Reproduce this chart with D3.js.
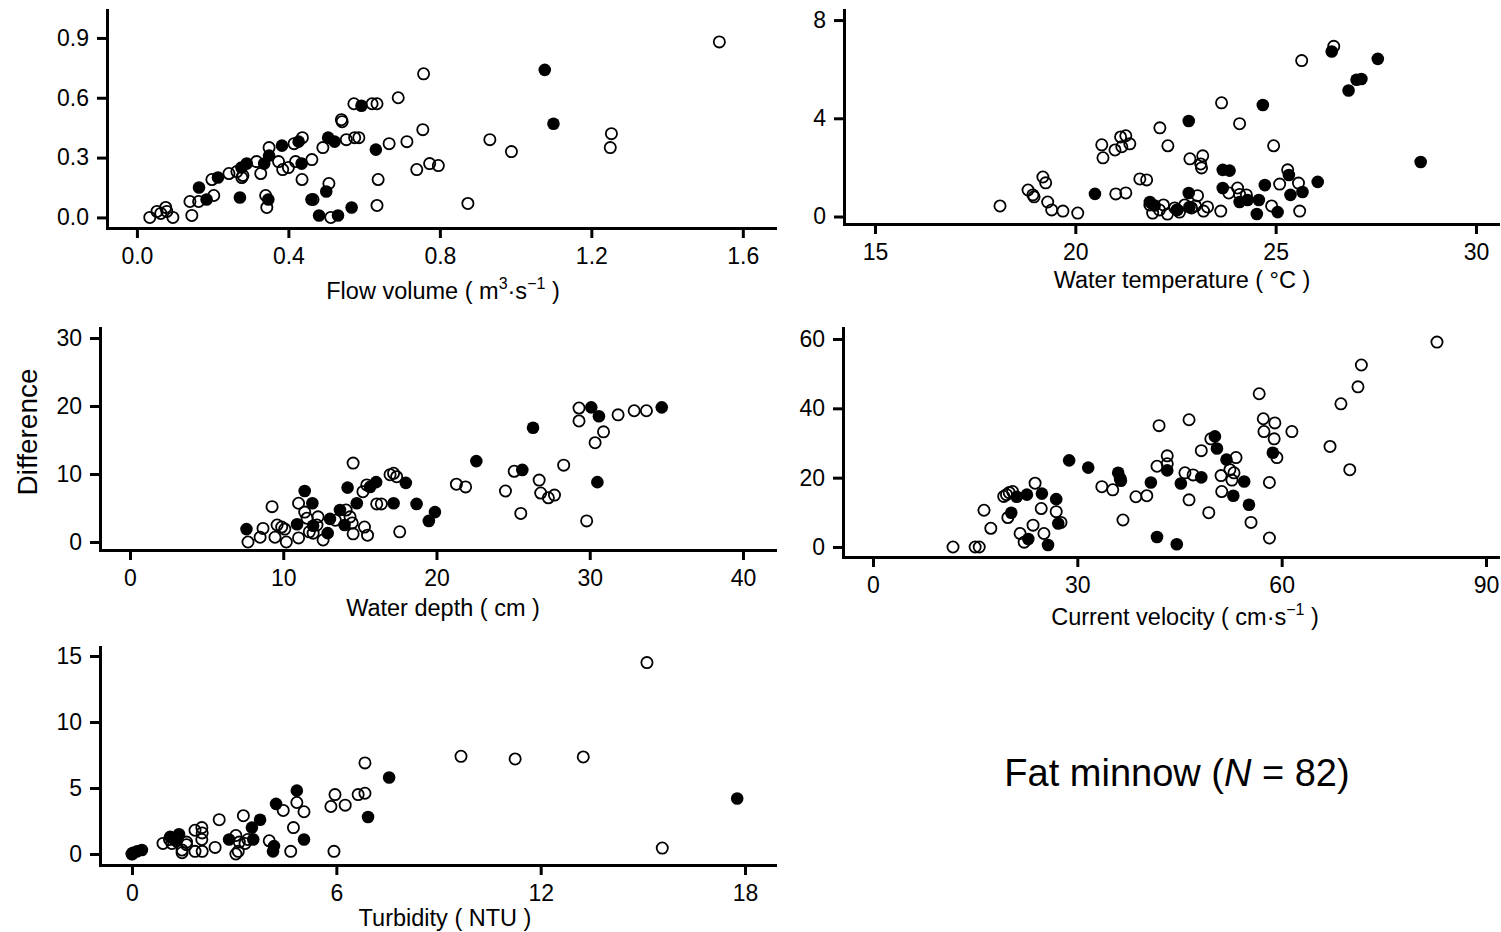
<!DOCTYPE html>
<html>
<head>
<meta charset="utf-8">
<script src="https://cdn.jsdelivr.net/npm/d3@7"></script>
<style>
body { margin: 0; background: #fff; }
svg { font-family: "Liberation Sans", Arial, Helvetica, sans-serif; }
.axis path, .axis line { stroke: #000; stroke-width: 3; }
.axis path { stroke-linecap: square; }
.axis text { font-size: 23px; fill: #000; }
.xtitle { fill: #000; }
</style>
</head>
<body>
<div id="chart"></div>
<script>
// Values: [x, difference]
var flowOpen = [[0.034,0.00],[0.053,0.03],[0.063,0.02],[0.076,0.05],[0.079,0.03],[0.095,0.00],[0.14,0.08],[0.145,0.01],[0.163,0.08],[0.198,0.19],[0.203,0.11],[0.243,0.22],[0.264,0.23],[0.277,0.20],[0.28,0.21],[0.316,0.28],[0.327,0.22],[0.34,0.11],[0.343,0.05],[0.349,0.35],[0.374,0.28],[0.385,0.24],[0.40,0.25],[0.415,0.37],[0.419,0.28],[0.437,0.40],[0.436,0.19],[0.462,0.29],[0.465,0.09],[0.491,0.35],[0.507,0.17],[0.512,0.00],[0.54,0.49],[0.542,0.48],[0.553,0.39],[0.575,0.40],[0.586,0.40],[0.573,0.57],[0.621,0.57],[0.634,0.57],[0.637,0.19],[0.634,0.06],[0.666,0.37],[0.69,0.60],[0.713,0.38],[0.757,0.72],[0.755,0.44],[0.739,0.24],[0.773,0.27],[0.796,0.26],[0.874,0.07],[0.932,0.39],[0.989,0.33],[1.253,0.42],[1.25,0.35],[1.538,0.88]];
var flowFilled = [[0.164,0.15],[0.184,0.09],[0.214,0.20],[0.272,0.10],[0.276,0.25],[0.29,0.27],[0.336,0.27],[0.349,0.31],[0.347,0.09],[0.383,0.36],[0.427,0.38],[0.435,0.27],[0.461,0.09],[0.481,0.01],[0.50,0.13],[0.505,0.40],[0.522,0.38],[0.531,0.01],[0.567,0.05],[0.593,0.56],[0.631,0.34],[1.077,0.74],[1.10,0.47]];

var tempOpen = [[18.12,0.43],[18.82,1.08],[18.94,0.88],[18.97,0.80],[19.19,1.61],[19.26,1.37],[19.31,0.59],[19.41,0.27],[19.69,0.22],[20.06,0.14],[20.66,2.92],[20.69,2.39],[20.99,2.71],[21.16,2.84],[21.13,3.24],[21.26,3.29],[21.36,2.96],[21.01,0.92],[21.26,0.96],[21.61,1.53],[21.78,1.49],[22.11,3.61],[22.31,2.88],[22.86,2.35],[23.18,2.47],[23.13,2.14],[23.15,1.98],[23.65,4.63],[24.1,3.78],[24.95,2.88],[25.3,1.90],[25.65,6.35],[26.45,6.93],[25.1,1.32],[25.57,1.36],[24.9,0.43],[25.6,0.22],[23.63,0.22],[23.83,0.96],[24.05,1.16],[24.27,0.88],[24.1,0.9],[23.05,0.85],[21.86,0.47],[21.93,0.14],[22.1,0.27],[22.2,0.47],[22.3,0.10],[22.48,0.35],[22.6,0.18],[22.73,0.47],[22.9,0.35],[23.0,0.43],[23.2,0.22],[23.3,0.39]];
var tempFilled = [[26.4,6.72],[27.55,6.42],[27.02,5.57],[27.14,5.60],[26.82,5.13],[24.68,4.54],[22.83,3.89],[28.62,2.22],[23.68,1.90],[23.85,1.87],[26.05,1.41],[24.73,1.28],[25.33,1.69],[25.67,1.00],[25.37,0.88],[23.68,1.16],[24.1,0.59],[24.3,0.67],[24.58,0.67],[24.53,0.10],[25.05,0.18],[22.83,0.96],[22.53,0.27],[21.86,0.59],[20.49,0.92],[21.98,0.45],[22.55,0.27],[22.85,0.39]];

var depthOpen = [[7.7,0.0],[8.49,0.7],[8.68,2.0],[9.27,5.2],[9.46,0.7],[9.6,2.5],[9.9,2.2],[10.2,0.0],[10.1,1.9],[11.0,0.6],[11.0,5.7],[11.4,4.4],[11.55,3.5],[11.7,1.5],[11.95,1.3],[12.27,3.7],[12.2,2.5],[12.6,0.3],[13.4,3.2],[14.1,4.7],[14.36,3.7],[14.5,2.8],[14.56,1.2],[15.3,2.2],[15.5,1.0],[14.56,11.6],[15.2,7.4],[15.45,8.4],[16.1,5.6],[16.4,5.6],[16.97,9.9],[17.2,10.1],[17.4,9.6],[17.6,1.5],[21.3,8.5],[21.9,8.1],[24.5,7.5],[25.07,10.4],[25.5,4.2],[26.7,9.1],[26.8,7.2],[27.3,6.5],[27.7,6.9],[28.3,11.3],[29.3,19.7],[29.3,17.8],[29.8,3.1],[30.35,14.6],[30.9,16.2],[31.85,18.7],[32.9,19.3],[33.7,19.3]];
var depthFilled = [[7.6,1.9],[10.9,2.6],[11.4,7.5],[11.9,5.7],[11.95,2.4],[12.9,1.3],[13.05,3.4],[13.7,4.7],[14.2,8.0],[14.0,2.5],[14.8,5.7],[15.67,8.1],[16.06,8.8],[17.2,5.7],[18.0,8.7],[18.7,5.6],[19.9,4.4],[19.5,3.1],[22.6,11.9],[25.6,10.6],[26.3,16.8],[30.1,19.8],[30.6,18.5],[30.5,8.8],[34.7,19.8]];

var velocityOpen = [[11.75,0.0],[15.0,0.0],[15.6,0.0],[16.3,10.6],[17.3,5.4],[19.2,14.6],[19.6,15.1],[20.0,15.7],[20.5,16.0],[19.8,8.5],[21.6,3.9],[22.2,1.4],[23.5,6.3],[23.8,18.4],[24.7,11.1],[25.1,3.9],[26.9,10.2],[27.6,7.1],[33.6,17.4],[35.2,16.5],[36.3,19.7],[36.7,7.8],[38.6,14.5],[40.2,14.8],[42.0,35.0],[41.7,23.3],[43.2,26.3],[43.2,24.0],[46.4,36.7],[45.8,21.4],[47.0,20.8],[46.4,13.6],[48.2,27.8],[49.3,9.9],[49.6,31.2],[51.1,20.6],[51.2,16.0],[52.4,22.3],[53.0,21.4],[52.7,19.3],[53.3,25.8],[55.5,7.1],[56.7,44.2],[57.3,37.0],[57.4,33.3],[59.0,35.8],[58.9,31.2],[59.3,25.8],[58.2,18.6],[58.2,2.6],[61.5,33.3],[67.1,29.0],[68.7,41.3],[70.0,22.3],[71.2,46.2],[71.7,52.5],[82.8,59.1]];
var velocityFilled = [[20.3,9.9],[21.1,14.5],[22.6,15.1],[24.8,15.4],[22.8,2.3],[25.7,0.6],[26.9,13.8],[27.2,6.8],[28.8,25.0],[31.6,22.9],[36.0,21.4],[36.4,19.1],[40.8,18.6],[41.7,2.9],[43.2,22.1],[44.6,0.8],[45.2,18.3],[48.2,20.1],[50.2,31.9],[50.5,28.4],[51.9,25.2],[52.9,14.8],[54.5,18.9],[55.2,12.2],[58.7,27.2]];

var turbOpen = [[0,0],[0.91,0.8],[1.17,0.8],[1.1,1.1],[1.3,1.0],[1.47,0.1],[1.47,0.3],[1.6,0.9],[1.6,0.7],[1.85,1.8],[1.85,0.2],[2.05,2.0],[2.06,1.6],[2.05,1.1],[2.06,0.2],[2.44,0.5],[2.56,2.6],[3.05,1.4],[3.05,0.0],[3.12,0.2],[3.15,0.9],[3.27,2.9],[3.32,0.8],[3.4,1.1],[4.03,1.0],[4.44,3.3],[4.66,0.2],[4.74,2.0],[4.84,3.9],[5.05,3.2],[5.84,3.6],[5.96,4.5],[5.93,0.2],[6.26,3.7],[6.64,4.5],[6.84,4.6],[6.84,6.9],[9.66,7.4],[11.25,7.2],[13.25,7.35],[15.12,14.5],[15.57,0.45]];
var turbFilled = [[0.0,0.0],[0.03,0.1],[0.15,0.2],[0.29,0.3],[1.12,1.3],[1.2,1.2],[1.38,1.5],[1.33,1.1],[2.85,1.1],[3.52,2.0],[3.76,2.6],[3.56,1.1],[4.17,0.6],[4.14,0.2],[4.23,3.8],[4.84,4.8],[5.05,1.1],[6.93,2.8],[7.55,5.8],[17.77,4.2]];

// Tick values for each panel
var flowXTicks = [0, 0.4, 0.8, 1.2, 1.6], flowYTicks = [0, 0.3, 0.6, 0.9];
var tempXTicks = [15, 20, 25, 30], tempYTicks = [0, 4, 8];
var depthXTicks = [0, 10, 20, 30, 40], depthYTicks = [0, 10, 20, 30];
var velocityXTicks = [0, 30, 60, 90], velocityYTicks = [0, 20, 40, 60];
var turbXTicks = [0, 6, 12, 18], turbYTicks = [0, 5, 10, 15];

var svg = d3.select('#chart').append('svg')
    .attr('width', 1501)
    .attr('height', 932);

// Layout of each panel (pixel frame of the axes, domain extents)
var panels = [
    {left: 107, right: 775, top: 10, bottom: 228, xDom: [-0.079, 1.685], yDom: [-0.053, 1.04],
     xTicks: flowXTicks, yTicks: flowYTicks, xFmt: d3.format('.1f'), yFmt: d3.format('.1f'),
     open: flowOpen, filled: flowFilled, titleX: 443, titleY: 299,
     title: [['Flow volume ( m', 0, 23.5], ['3', -10, 16], ['·s', 10, 23.5], ['−1', -10, 16], [' )', 10, 23.5]]},
    {left: 844, right: 1498, top: 10, bottom: 224, xDom: [14.226, 30.55], yDom: [-0.305, 8.41],
     xTicks: tempXTicks, yTicks: tempYTicks, xFmt: d3.format('d'), yFmt: d3.format('d'),
     open: tempOpen, filled: tempFilled, titleX: 1182, titleY: 288,
     title: [['Water temperature ( °C )', 0, 23.5]]},
    {left: 100, right: 775, top: 328, bottom: 550, xDom: [-1.958, 42.09], yDom: [-1.176, 31.47],
     xTicks: depthXTicks, yTicks: depthYTicks, xFmt: d3.format('d'), yFmt: d3.format('d'),
     open: depthOpen, filled: depthFilled, titleX: 443, titleY: 616,
     title: [['Water depth ( cm )', 0, 23.5]]},
    {left: 843, right: 1498, top: 328, bottom: 557, xDom: [-4.40, 91.76], yDom: [-2.88, 63.17],
     xTicks: velocityXTicks, yTicks: velocityYTicks, xFmt: d3.format('d'), yFmt: d3.format('d'),
     open: velocityOpen, filled: velocityFilled, titleX: 1185, titleY: 625,
     title: [['Current velocity ( cm·s', 0, 23.5], ['−1', -10, 16], [' )', 10, 23.5]]},
    {left: 100, right: 775, top: 647, bottom: 865, xDom: [-0.94, 18.88], yDom: [-0.833, 15.68],
     xTicks: turbXTicks, yTicks: turbYTicks, xFmt: d3.format('d'), yFmt: d3.format('d'),
     open: turbOpen, filled: turbFilled, titleX: 445, titleY: 926,
     title: [['Turbidity ( NTU )', 0, 23.5]]}
];

function drawPanel(p) {
    var x = d3.scaleLinear().domain(p.xDom).range([p.left, p.right]);
    var y = d3.scaleLinear().domain(p.yDom).range([p.bottom, p.top]);

    var g = svg.append('g');

    g.append('g').attr('class', 'axis')
        .attr('transform', `translate(0,${p.bottom})`)
        .call(d3.axisBottom(x).tickValues(p.xTicks).tickFormat(p.xFmt)
            .tickSize(10).tickSizeOuter(0).tickPadding(10))
        .call(a => a.selectAll('text').attr('font-family', null).attr('font-size', null));

    g.append('g').attr('class', 'axis')
        .attr('transform', `translate(${p.left},0)`)
        .call(d3.axisLeft(y).tickValues(p.yTicks).tickFormat(p.yFmt)
            .tickSize(10).tickSizeOuter(0).tickPadding(8))
        .call(a => a.selectAll('text').attr('font-family', null).attr('font-size', null));

    // open circles first, filled ones on top
    g.selectAll('circle.open').data(p.open).enter().append('circle')
        .attr('class', 'open')
        .attr('cx', d => x(d[0]))
        .attr('cy', d => y(d[1]))
        .attr('r', 5.6)
        .attr('fill', 'none')
        .attr('stroke', '#000')
        .attr('stroke-width', 1.8);

    g.selectAll('circle.filled').data(p.filled).enter().append('circle')
        .attr('class', 'filled')
        .attr('cx', d => x(d[0]))
        .attr('cy', d => y(d[1]))
        .attr('r', 6.3)
        .attr('fill', '#000');

    var t = g.append('text').attr('class', 'xtitle')
        .attr('x', p.titleX)
        .attr('y', p.titleY)
        .attr('text-anchor', 'middle');
    p.title.forEach(function(part) {
        t.append('tspan').attr('dy', part[1]).attr('font-size', part[2]).text(part[0]);
    });
}

panels.forEach(drawPanel);

// shared y label
svg.append('text')
    .attr('transform', 'translate(37,432) rotate(-90)')
    .attr('text-anchor', 'middle')
    .attr('font-size', 28)
    .text('Difference');

// species label
var lab = svg.append('text')
    .attr('x', 1177)
    .attr('y', 786)
    .attr('text-anchor', 'middle')
    .attr('font-size', 38);
lab.append('tspan').text('Fat minnow (');
lab.append('tspan').attr('font-style', 'italic').text('N');
lab.append('tspan').text(' = 82)');
</script>
</body>
</html>
